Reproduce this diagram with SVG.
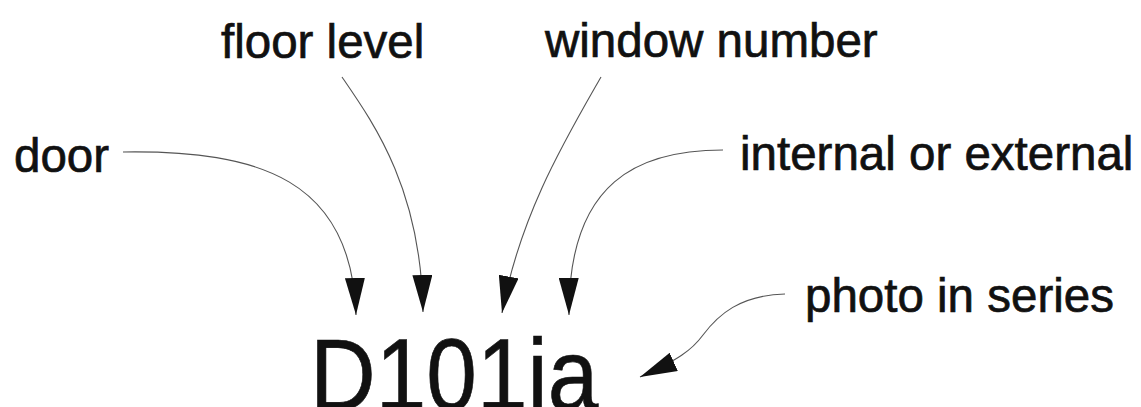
<svg xmlns="http://www.w3.org/2000/svg" width="1141" height="407" viewBox="0 0 1141 407">
  <style>
    .lbl { font-family: "Liberation Sans", Arial, sans-serif; font-size: 47.5px; fill: #111; stroke: #111; stroke-width: 0.7px; }
    .code { font-family: "Liberation Sans", Arial, sans-serif; font-size: 91px; fill: #111; stroke: #111; stroke-width: 0.6px; }
    .conn { fill: none; stroke: #555; stroke-width: 1.1; marker-end: url(#arrow); }
  </style>
  <defs>
    <marker id="arrow" viewBox="0 0 37 20" refX="37" refY="10" markerWidth="37" markerHeight="20" markerUnits="userSpaceOnUse" orient="auto">
      <path d="M0,0 L37,10 L0,20 Z" fill="#111"/>
    </marker>
  </defs>
  <rect width="1141" height="407" fill="#ffffff"/>
  <g id="connectors">
    <path id="c-door" class="conn" d="M123,152 C260,150 352,180 356,315"/>
    <path id="c-floor" class="conn" d="M342,77 C375,125 421,190 423,312"/>
    <path id="c-window" class="conn" d="M601,77 C565,140 520,215 502,313"/>
    <path id="c-internal" class="conn" d="M723,150 C640,150 568,180 569,315"/>
    <path id="c-photo" class="conn" d="M785,294 C740,295 718,315 703,335 C692,350 678,360 640,377"/>
  </g>
  <g id="door"><text class="lbl" x="14" y="172">door</text></g>
  <g id="floor-level"><text class="lbl" x="221" y="58">floor level</text></g>
  <g id="window-number"><text class="lbl" x="545" y="57">window number</text></g>
  <g id="internal-external"><text class="lbl" x="740" y="170">internal or external</text></g>
  <g id="photo-series"><text class="lbl" x="805" y="312">photo in series</text></g>
  <g id="code"><text class="code" transform="translate(310,410) scale(1,1.12)" x="0" y="0">D101ia</text></g>
</svg>
